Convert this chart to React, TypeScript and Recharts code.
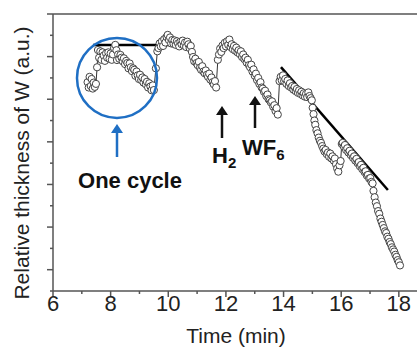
import { Line, LineChart, ReferenceDot, ReferenceLine, XAxis, YAxis } from "recharts";

// [time (min), relative thickness (a.u.)]
const startCluster: [number, number][] = [
  [7.2, 9.8], [7.24, 9.55], [7.27, 10.05], [7.31, 9.62], [7.34, 9.95], [7.38, 9.5],
  [7.41, 9.78], [7.45, 9.58], [7.49, 9.72], [7.53, 10.5], [7.56, 11.31],
];

const cycle1: [number, number][] = [
  [7.6, 10.95], [7.64, 11.25], [7.68, 10.85], [7.72, 11.2], [7.76, 11.05], [7.8, 10.8],
  [7.84, 11.15], [7.88, 10.95], [7.92, 11.2], [7.96, 10.9], [8.0, 11.15], [8.04, 10.85],
  [8.08, 11.1], [8.12, 11.4], [8.16, 11.55], [8.2, 11.3], [8.22, 10.84], [8.26, 11.1],
  [8.3, 10.9], [8.34, 11.08], [8.38, 10.95], [8.42, 10.78], [8.46, 10.92], [8.5, 10.65],
  [8.54, 10.8], [8.58, 10.7], [8.62, 10.45], [8.66, 10.68], [8.7, 10.5], [8.74, 10.32],
  [8.78, 10.45], [8.82, 10.38], [8.86, 10.1], [8.9, 10.3], [8.94, 10.12], [8.98, 9.95],
  [9.02, 10.15], [9.06, 9.9], [9.1, 10.02], [9.14, 9.78], [9.18, 9.95], [9.22, 9.7],
  [9.26, 9.82], [9.3, 9.55], [9.34, 9.75], [9.38, 9.6], [9.42, 9.42], [9.46, 9.65],
  [9.5, 9.43], [9.57, 10.45], [9.62, 11.25],
];

const cycle2: [number, number][] = [
  [9.66, 11.4], [9.7, 11.62], [9.74, 11.48], [9.78, 11.72], [9.82, 11.5], [9.86, 11.82],
  [9.9, 11.66], [9.94, 11.92], [9.98, 12.02], [10.02, 11.78], [10.06, 11.9], [10.1, 11.62],
  [10.14, 11.78], [10.18, 11.6], [10.22, 11.76], [10.26, 11.55], [10.3, 11.72], [10.34, 11.62],
  [10.38, 11.48], [10.42, 11.7], [10.46, 11.58], [10.5, 11.75], [10.54, 11.52], [10.58, 11.66],
  [10.62, 11.45], [10.66, 11.7], [10.7, 11.58], [10.74, 11.4], [10.78, 11.5], [10.82, 11.22],
  [10.86, 10.98], [10.9, 10.78], [10.94, 10.9], [10.98, 10.7], [11.02, 10.6], [11.06, 10.75],
  [11.1, 10.48], [11.14, 10.38], [11.18, 10.55], [11.22, 10.3], [11.26, 10.22], [11.3, 10.35],
  [11.34, 10.15], [11.38, 10.05], [11.42, 10.2], [11.46, 9.92], [11.5, 10.02], [11.54, 9.8],
  [11.58, 9.7], [11.62, 9.85], [11.66, 9.55], [11.72, 10.85],
];

const cycle3: [number, number][] = [
  [11.76, 11.1], [11.8, 11.38], [11.84, 11.22], [11.88, 11.52], [11.92, 11.4], [11.96, 11.65],
  [12.0, 11.48], [12.04, 11.72], [12.08, 11.55], [12.12, 11.8], [12.16, 11.45], [12.2, 11.58],
  [12.24, 11.35], [12.28, 11.5], [12.32, 11.28], [12.36, 11.42], [12.4, 11.2], [12.44, 11.3],
  [12.48, 11.12], [12.52, 11.25], [12.56, 10.98], [12.6, 11.1], [12.64, 10.88], [12.68, 10.95],
  [12.72, 10.72], [12.76, 10.85], [12.8, 10.6], [12.84, 10.5], [12.88, 10.62], [12.92, 10.3],
  [12.96, 10.4], [13.0, 10.1], [13.04, 10.2], [13.08, 9.9], [13.12, 10.0], [13.16, 9.72],
  [13.2, 9.8], [13.24, 9.55], [13.28, 9.5], [13.32, 9.35], [13.36, 9.4], [13.4, 9.15],
  [13.44, 9.22], [13.48, 9.0], [13.52, 8.95], [13.56, 8.85], [13.6, 8.9], [13.64, 8.65],
  [13.68, 8.72], [13.72, 8.45], [13.76, 8.58], [13.8, 8.28], [13.86, 9.85],
];

const cycle4: [number, number][] = [
  [13.9, 10.05], [13.94, 9.88], [13.98, 10.12], [14.02, 9.85], [14.06, 9.95], [14.1, 9.72],
  [14.14, 9.88], [14.18, 9.62], [14.22, 9.75], [14.26, 9.55], [14.3, 9.62], [14.34, 9.45],
  [14.38, 9.58], [14.42, 9.38], [14.46, 9.48], [14.5, 9.3], [14.54, 9.42], [14.58, 9.25],
  [14.62, 9.35], [14.66, 9.18], [14.7, 9.28], [14.74, 9.12], [14.78, 9.25], [14.82, 9.1],
  [14.86, 9.32], [14.9, 9.15], [14.94, 9.05], [14.98, 8.95], [15.01, 8.6], [15.04, 8.3],
  [15.07, 8.0], [15.1, 7.8], [15.14, 7.55], [15.18, 7.4], [15.22, 7.2], [15.26, 7.05],
  [15.3, 6.95], [15.34, 6.8], [15.38, 6.68], [15.42, 6.55], [15.46, 6.62], [15.5, 6.42],
  [15.54, 6.5], [15.58, 6.3], [15.62, 6.45], [15.66, 6.22], [15.7, 6.32], [15.74, 6.12],
  [15.78, 6.22], [15.82, 5.95], [15.86, 5.75], [15.9, 5.6], [15.94, 5.9], [15.98, 6.1],
  [16.02, 6.9],
];

const cycle5: [number, number][] = [
  [16.05, 6.95], [16.09, 6.78], [16.13, 6.85], [16.17, 6.62], [16.21, 6.7], [16.25, 6.5],
  [16.29, 6.58], [16.33, 6.38], [16.37, 6.45], [16.41, 6.25], [16.45, 6.32], [16.49, 6.12],
  [16.53, 6.2], [16.57, 6.0], [16.61, 6.05], [16.65, 5.85], [16.69, 5.92], [16.73, 5.72],
  [16.77, 5.78], [16.81, 5.58], [16.85, 5.62], [16.89, 5.42], [16.93, 5.45], [16.97, 5.28],
  [17.01, 5.3], [17.05, 5.12], [17.09, 5.05],
];

const finalDrop: [number, number][] = [
  [17.12, 4.7], [17.16, 4.4], [17.2, 4.15], [17.24, 3.98], [17.28, 3.75], [17.32, 3.62],
  [17.36, 3.4], [17.4, 3.25], [17.44, 3.1], [17.48, 2.95], [17.52, 2.8], [17.56, 2.72],
  [17.6, 2.55], [17.64, 2.45], [17.68, 2.3], [17.72, 2.2], [17.76, 2.05], [17.8, 1.95],
  [17.84, 1.85], [17.88, 1.7], [17.92, 1.6], [17.96, 1.45], [18.0, 1.35], [18.04, 1.2],
];

const xTicks = [6, 7, 8, 9, 10, 11, 12, 13, 14, 15, 16, 17, 18];
const yTicks = [0, 1, 2, 3, 4, 5, 6, 7, 8, 9, 10, 11, 12, 13];

// guide lines drawn over the data
const plateauLine = { x1: 7.39, x2: 10.89, y: 11.54 };
const slopeLine = { x1: 13.91, y1: 10.51, x2: 17.62, y2: 4.74 };
const cycleMark = { x: 8.22, y: 10.0 };

const data = [...startCluster, ...cycle1, ...cycle2, ...cycle3, ...cycle4, ...cycle5, ...finalDrop].map(
  ([t, v]) => ({ t, v })
);

const AXIS = "#555";
const FONT = "'Liberation Sans', Arial, sans-serif";
const BLUE = "#1f6fc4";

const XTick = (props: any) => {
  const { x, y, payload } = props;
  const major = payload.value % 2 === 0;
  return (
    <g>
      <line x1={x} x2={x} y1={y} y2={y + (major ? 6 : 3)} stroke={AXIS} strokeWidth={1.5} />
      {major && (
        <text x={x} y={y + 20} textAnchor="middle" fontSize={22} fontFamily={FONT} fill="#222">
          {payload.value}
        </text>
      )}
    </g>
  );
};

const YTick = (props: any) => {
  const { x, y, payload } = props;
  const major = payload.value % 2 === 1;
  return <line x1={x} x2={x - (major ? 6 : 3)} y1={y} y2={y} stroke={AXIS} strokeWidth={1.5} />;
};

const Dot = (props: any) => {
  const { cx, cy, index } = props;
  return <circle key={index} cx={cx} cy={cy} r={3.6} fill="#fff" stroke="#444" strokeWidth={1} />;
};

export default function App() {
  return (
    <div style={{ position: "absolute", left: 0, top: 0, width: 417, height: 348 }}>
      <LineChart width={417} height={348} data={data} margin={{ top: 14, right: 0, bottom: 0, left: 0 }}>
        <XAxis
          dataKey="t"
          type="number"
          domain={[6, 18.63]}
          ticks={xTicks}
          interval={0}
          height={57}
          tickSize={0}
          tickMargin={0}
          tick={<XTick />}
          axisLine={{ stroke: AXIS, strokeWidth: 1.5 }}
          tickLine={false}
        />
        <YAxis
          type="number"
          domain={[0, 13]}
          ticks={yTicks}
          interval={0}
          width={53}
          tickSize={0}
          tickMargin={0}
          tick={<YTick />}
          axisLine={{ stroke: AXIS, strokeWidth: 1.5 }}
          tickLine={false}
        />
        <ReferenceLine y={13} stroke={AXIS} strokeWidth={1.5} />
        <Line
          dataKey="v"
          stroke="#333"
          strokeWidth={1}
          dot={<Dot />}
          isAnimationActive={false}
        />
        <ReferenceLine
          segment={[
            { x: plateauLine.x1, y: plateauLine.y },
            { x: plateauLine.x2, y: plateauLine.y },
          ]}
          stroke="#000"
          strokeWidth={2.5}
        />
        <ReferenceLine
          segment={[
            { x: slopeLine.x1, y: slopeLine.y1 },
            { x: slopeLine.x2, y: slopeLine.y2 },
          ]}
          stroke="#000"
          strokeWidth={2.5}
        />
        <ReferenceDot x={cycleMark.x} y={cycleMark.y} r={40} fill="none" stroke={BLUE} strokeWidth={2.5} />
      </LineChart>
      <svg
        width={417}
        height={348}
        style={{ position: "absolute", left: 0, top: 0, pointerEvents: "none" }}
        fontFamily={FONT}
      >
        <text
          transform="translate(29,163) rotate(-90)"
          textAnchor="middle"
          fontSize={21}
          fill="#222"
        >
          Relative thickness of W (a.u.)
        </text>
        <text x={236} y={343} textAnchor="middle" fontSize={21} fill="#222">
          Time (min)
        </text>

        <line x1={117} y1={157} x2={117} y2={131} stroke={BLUE} strokeWidth={2.5} />
        <polygon points="111,133 117,124 123,133" fill={BLUE} />
        <text x={130} y={188} textAnchor="middle" fontSize={22} fontWeight="bold" fill="#111">
          One cycle
        </text>

        <line x1={222} y1={138} x2={222} y2={113} stroke="#111" strokeWidth={2.5} />
        <polygon points="216,115 222,106 228,115" fill="#111" />
        <text x={212} y={163} fontSize={22} fontWeight="bold" fill="#111">
          H<tspan fontSize={15} dy={5}>2</tspan>
        </text>

        <line x1={255} y1={128} x2={255} y2={103} stroke="#111" strokeWidth={2.5} />
        <polygon points="249,105 255,96 261,105" fill="#111" />
        <text x={242} y={155} fontSize={22} fontWeight="bold" fill="#111">
          WF<tspan fontSize={15} dy={5}>6</tspan>
        </text>
      </svg>
    </div>
  );
}
